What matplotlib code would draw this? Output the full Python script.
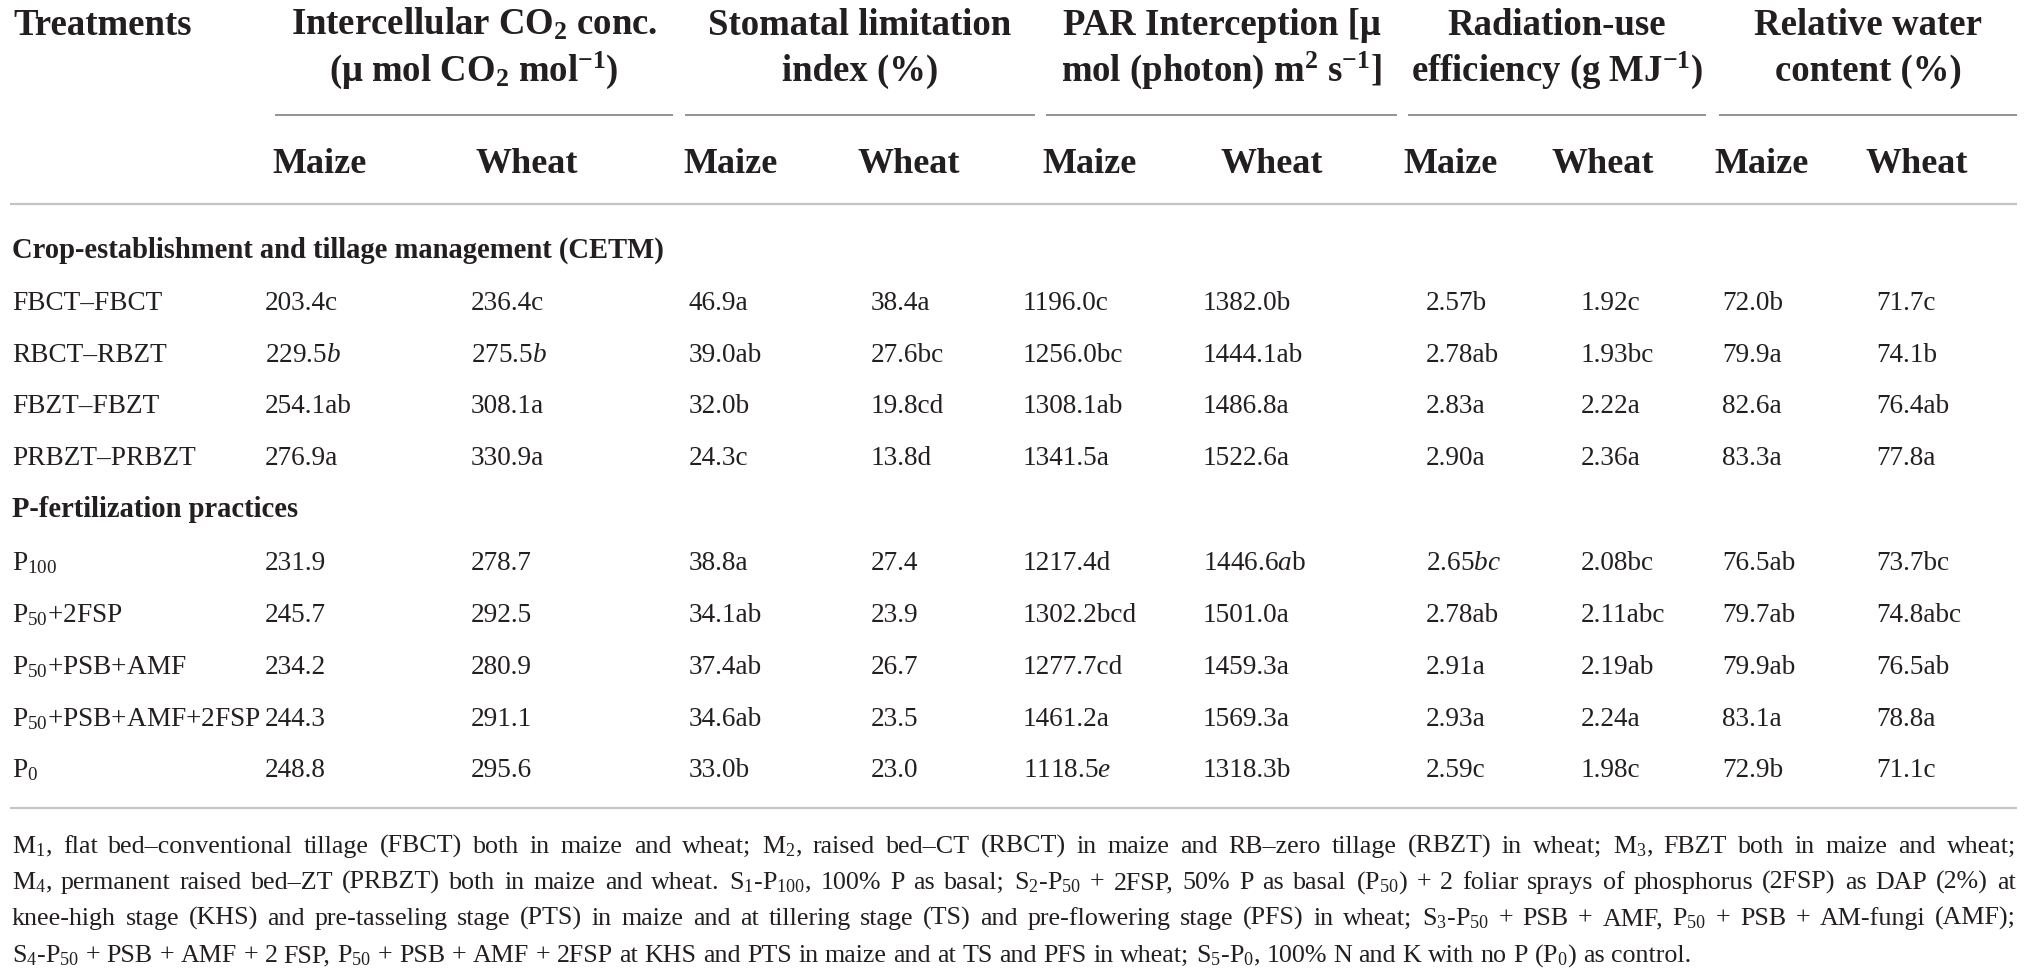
import matplotlib
matplotlib.use('Agg')
import matplotlib.pyplot as plt

plt.rcParams['font.family'] = ['Liberation Serif', 'DejaVu Serif']
plt.rcParams['mathtext.fontset'] = 'custom'
plt.rcParams['mathtext.rm'] = 'Liberation Serif'
plt.rcParams['mathtext.it'] = 'Liberation Serif:italic'
plt.rcParams['mathtext.bf'] = 'Liberation Serif:bold'


def IT(s):
    return r'$\mathit{%s}$' % s


# ---------------- data ----------------
section_titles = ['Crop-establishment and tillage management (CETM)', 'P-fertilization practices']
treatments_cetm = ['FBCT–FBCT', 'RBCT–RBZT', 'FBZT–FBZT', 'PRBZT–PRBZT']
treatments_p = [r'P$\mathregular{_{100}}$', r'P$\mathregular{_{50}}$+2FSP', r'P$\mathregular{_{50}}$+PSB+AMF',
                r'P$\mathregular{_{50}}$+PSB+AMF+2FSP', r'P$\mathregular{_{0}}$']

group_headers = [
    (r'Intercellular CO$\mathregular{_2}$ conc.', r'(μ mol CO$\mathregular{_2}$ mol$\mathregular{^{-1}}$)'),
    ('Stomatal limitation', 'index (%)'),
    ('PAR Interception [μ', r'mol (photon) m$\mathregular{^2}$ s$\mathregular{^{-1}}$]'),
    ('Radiation-use', r'efficiency (g MJ$\mathregular{^{-1}}$)'),
    ('Relative water', 'content (%)'),
]
crops = ['Maize', 'Wheat']

ci_maize = [203.4, 229.5, 254.1, 276.9, 231.9, 245.7, 234.2, 244.3, 248.8]
ci_maize_sig = ['c', IT('b'), 'ab', 'a', '', '', '', '', '']
ci_wheat = [236.4, 275.5, 308.1, 330.9, 278.7, 292.5, 280.9, 291.1, 295.6]
ci_wheat_sig = ['c', IT('b'), 'a', 'a', '', '', '', '', '']
sl_maize = [46.9, 39.0, 32.0, 24.3, 38.8, 34.1, 37.4, 34.6, 33.0]
sl_maize_sig = ['a', 'ab', 'b', 'c', 'a', 'ab', 'ab', 'ab', 'b']
sl_wheat = [38.4, 27.6, 19.8, 13.8, 27.4, 23.9, 26.7, 23.5, 23.0]
sl_wheat_sig = ['a', 'bc', 'cd', 'd', '', '', '', '', '']
par_maize = [1196.0, 1256.0, 1308.1, 1341.5, 1217.4, 1302.2, 1277.7, 1461.2, 1118.5]
par_maize_sig = ['c', 'bc', 'ab', 'a', 'd', 'bcd', 'cd', 'a', IT('e')]
par_wheat = [1382.0, 1444.1, 1486.8, 1522.6, 1446.6, 1501.0, 1459.3, 1569.3, 1318.3]
par_wheat_sig = ['b', 'ab', 'a', 'a', IT('a') + 'b', 'a', 'a', 'a', 'b']
rue_maize = [2.57, 2.78, 2.83, 2.90, 2.65, 2.78, 2.91, 2.93, 2.59]
rue_maize_sig = ['b', 'ab', 'a', 'a', IT('bc'), 'ab', 'a', 'a', 'c']
rue_wheat = [1.92, 1.93, 2.22, 2.36, 2.08, 2.11, 2.19, 2.24, 1.98]
rue_wheat_sig = ['c', 'bc', 'a', 'a', 'bc', 'abc', 'ab', 'a', 'c']
rwc_maize = [72.0, 79.9, 82.6, 83.3, 76.5, 79.7, 79.9, 83.1, 72.9]
rwc_maize_sig = ['b', 'a', 'a', 'a', 'ab', 'ab', 'ab', 'a', 'b']
rwc_wheat = [71.7, 74.1, 76.4, 77.8, 73.7, 74.8, 76.5, 78.8, 71.1]
rwc_wheat_sig = ['c', 'b', 'ab', 'a', 'bc', 'abc', 'ab', 'a', 'c']

footnote_lines = [
    r'M$\mathregular{_1}$, flat bed–conventional tillage (FBCT) both in maize and wheat; M$\mathregular{_2}$, raised bed–CT (RBCT) in maize and RB–zero tillage (RBZT) in wheat; M$\mathregular{_3}$, FBZT both in maize and wheat;',
    r'M$\mathregular{_4}$, permanent raised bed–ZT (PRBZT) both in maize and wheat. S$\mathregular{_1}$-P$\mathregular{_{100}}$, 100% P as basal; S$\mathregular{_2}$-P$\mathregular{_{50}}$ + 2FSP, 50% P as basal (P$\mathregular{_{50}}$) + 2 foliar sprays of phosphorus (2FSP) as DAP (2%) at',
    r'knee-high stage (KHS) and pre-tasseling stage (PTS) in maize and at tillering stage (TS) and pre-flowering stage (PFS) in wheat; S$\mathregular{_3}$-P$\mathregular{_{50}}$ + PSB + AMF, P$\mathregular{_{50}}$ + PSB + AM-fungi (AMF);',
    r'S$\mathregular{_4}$-P$\mathregular{_{50}}$ + PSB + AMF + 2 FSP, P$\mathregular{_{50}}$ + PSB + AMF + 2FSP at KHS and PTS in maize and at TS and PFS in wheat; S$\mathregular{_5}$-P$\mathregular{_0}$, 100% N and K with no P (P$\mathregular{_0}$) as control.',
]

columns = [
    (ci_maize, ci_maize_sig, 1), (ci_wheat, ci_wheat_sig, 1),
    (sl_maize, sl_maize_sig, 1), (sl_wheat, sl_wheat_sig, 1),
    (par_maize, par_maize_sig, 1), (par_wheat, par_wheat_sig, 1),
    (rue_maize, rue_maize_sig, 2), (rue_wheat, rue_wheat_sig, 2),
    (rwc_maize, rwc_maize_sig, 1), (rwc_wheat, rwc_wheat_sig, 1),
]

# ---------------- layout ----------------
W, H = 2030, 977
fig = plt.figure(figsize=(W / 100, H / 100), dpi=100)
ax = fig.add_axes([0, 0, 1, 1])
ax.set_xlim(0, W)
ax.set_ylim(H, 0)
ax.axis('off')

TXT = '#231f20'
HDR = 26.5
SUB = 26
SEC = 20.6
BODY = 19.6
FOOT = 18.7

group_segments = [(275, 673), (685, 1035), (1046, 1397), (1408, 1706), (1719, 2017)]
sub_x = [272, 476, 683, 858, 1042, 1221, 1403, 1552, 1714, 1866]
col_x = [265, 471, 689, 871, 1023, 1203, 1426, 1581, 1722, 1876]

ax.text(13, 35, 'Treatments', fontsize=HDR, fontweight='bold', color=TXT, va='baseline', ha='left')
for (l1, l2), (x0, x1) in zip(group_headers, group_segments):
    cx = (x0 + x1) / 2
    ax.text(cx, 35, l1, fontsize=HDR, fontweight='bold', color=TXT, va='baseline', ha='center')
    ax.text(cx, 81, l2, fontsize=HDR, fontweight='bold', color=TXT, va='baseline', ha='center')
    ax.plot([x0, x1], [115, 115], color='#8a8a8a', lw=1.3, solid_capstyle='butt')
for i, x in enumerate(sub_x):
    ax.text(x, 173, crops[i % 2], fontsize=SUB, fontweight='bold', color=TXT, va='baseline', ha='left')
ax.plot([10, 2017], [204, 204], color='#c4c4c4', lw=1.6, solid_capstyle='butt')

sec_y = [258, 517]
row_y = [310, 362, 413, 465, 570, 622, 674, 726, 777]
ax.text(12, sec_y[0], section_titles[0], fontsize=SEC, fontweight='bold', color=TXT, va='baseline')
ax.text(12, sec_y[1], section_titles[1], fontsize=SEC, fontweight='bold', color=TXT, va='baseline')
labels = treatments_cetm + treatments_p
for r, lab in enumerate(labels):
    ax.text(12, row_y[r], lab, fontsize=BODY, color=TXT, va='baseline')
for c, (vals, sigs, nd) in enumerate(columns):
    for r, (v, s) in enumerate(zip(vals, sigs)):
        ax.text(col_x[c], row_y[r], f'{v:.{nd}f}' + s, fontsize=BODY, color=TXT, va='baseline')
ax.plot([10, 2017], [808, 808], color='#c4c4c4', lw=1.6, solid_capstyle='butt')

# ---------------- footnote (justified) ----------------
renderer = fig.canvas.get_renderer()
foot_y = [853, 889, 925, 962]
left, right = 12, 2016
for li, line in enumerate(footnote_lines):
    words = line.split(' ')
    objs = [ax.text(0, foot_y[li], w, fontsize=FOOT, color=TXT, va='baseline', ha='left') for w in words]
    widths = [o.get_window_extent(renderer).width for o in objs]
    if li < len(footnote_lines) - 1:
        gap = (right - left - sum(widths)) / (len(words) - 1)
    else:
        sp = ax.text(0, 0, 'a a', fontsize=FOOT)
        sp2 = ax.text(0, 0, 'aa', fontsize=FOOT)
        gap = sp.get_window_extent(renderer).width - sp2.get_window_extent(renderer).width
        sp.remove(); sp2.remove()
    x = left
    for o, w in zip(objs, widths):
        o.set_x(x)
        x += w + gap

fig.savefig('out.png', dpi=100, facecolor='white')
